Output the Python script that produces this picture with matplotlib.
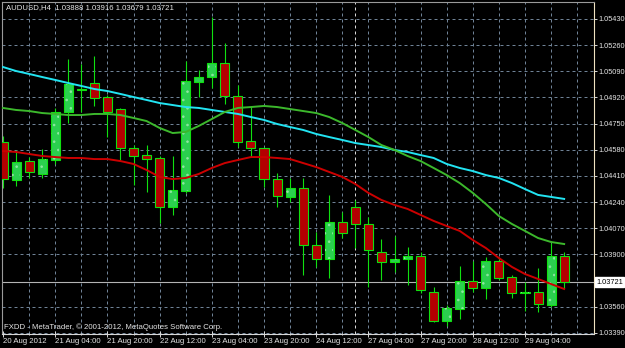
import matplotlib
matplotlib.use("Agg")
import matplotlib.pyplot as plt

# AUDUSD H4 bars, 20 Aug 2012 12:00 -> 29 Aug 2012
opens = [1.04631, 1.04384, 1.04507, 1.04423, 1.04514, 1.04826, 1.04969, 1.05014, 1.04923, 1.04845,
         1.04592, 1.04546, 1.04527, 1.04209, 1.04313, 1.05021, 1.05053, 1.05144, 1.04930, 1.04637,
         1.04592, 1.04390, 1.04274, 1.04332, 1.03962, 1.03871, 1.04111, 1.04209, 1.04098, 1.03916,
         1.03851, 1.03871, 1.03890, 1.03656, 1.03468, 1.03546, 1.03728, 1.03682, 1.03858, 1.03754,
         1.03650, 1.03656, 1.03572, 1.03888]
highs = [1.04670, 1.04579, 1.04533, 1.04585, 1.04852, 1.05170, 1.05138, 1.05190, 1.04936, 1.04852,
         1.04611, 1.04611, 1.04540, 1.04540, 1.05157, 1.05099, 1.05443, 1.05274, 1.05001, 1.04865,
         1.04598, 1.04430, 1.04397, 1.04397, 1.04046, 1.04287, 1.04176, 1.04254, 1.04144, 1.04001,
         1.04020, 1.03949, 1.03916, 1.03689, 1.03572, 1.03825, 1.03858, 1.03884, 1.03884, 1.03767,
         1.03721, 1.03812, 1.03975, 1.03916]
lows = [1.04332, 1.04345, 1.04397, 1.04397, 1.04488, 1.04754, 1.04826, 1.04865, 1.04663, 1.04514,
        1.04352, 1.04306, 1.04105, 1.04157, 1.04300, 1.04923, 1.04982, 1.04878, 1.04598, 1.04533,
        1.04339, 1.04209, 1.04241, 1.03767, 1.03819, 1.03747, 1.04007, 1.03942, 1.03689, 1.03734,
        1.03786, 1.03702, 1.03650, 1.03461, 1.03435, 1.03481, 1.03656, 1.03611, 1.03734, 1.03617,
        1.03533, 1.03526, 1.03559, 1.03679]
closes = [1.04390, 1.04501, 1.04436, 1.04520, 1.04826, 1.05008, 1.04975, 1.04917, 1.04826, 1.04592,
          1.04540, 1.04520, 1.04209, 1.04319, 1.05027, 1.05053, 1.05144, 1.04930, 1.04631, 1.04592,
          1.04390, 1.04280, 1.04332, 1.03962, 1.03871, 1.04111, 1.04040, 1.04098, 1.03929, 1.03851,
          1.03871, 1.03890, 1.03669, 1.03468, 1.03552, 1.03728, 1.03682, 1.03858, 1.03747, 1.03650,
          1.03656, 1.03578, 1.03890, 1.03721]

# moving averages, one value per bar
ma_slow = [1.05118, 1.05092, 1.05073, 1.05053, 1.05034, 1.05014, 1.04995, 1.04975, 1.04962, 1.04943,
           1.04923, 1.04904, 1.04884, 1.04871, 1.04858, 1.04852, 1.04839, 1.04826, 1.04813, 1.04793,
           1.04774, 1.04748, 1.04728, 1.04709, 1.04683, 1.04663, 1.04644, 1.04624, 1.04611, 1.04598,
           1.04579, 1.04566, 1.04546, 1.04527, 1.04488, 1.04462, 1.04442, 1.04416, 1.04397, 1.04364,
           1.04325, 1.04287, 1.04274, 1.04261]
ma_mid = [1.04852, 1.04839, 1.04832, 1.04819, 1.04813, 1.04806, 1.04806, 1.04813, 1.04813, 1.04806,
          1.04787, 1.04767, 1.04722, 1.04689, 1.04696, 1.04735, 1.04780, 1.04826, 1.04852, 1.04858,
          1.04865, 1.04858, 1.04845, 1.04832, 1.04819, 1.04793, 1.04754, 1.04709, 1.04663, 1.04611,
          1.04579, 1.04540, 1.04507, 1.04462, 1.04416, 1.04364, 1.04300, 1.04228, 1.04150, 1.04098,
          1.04053, 1.04007, 1.03981, 1.03968]
ma_fast = [1.04572, 1.04566, 1.04553, 1.04540, 1.04533, 1.04527, 1.04527, 1.04520, 1.04520, 1.04507,
           1.04488, 1.04449, 1.04404, 1.04390, 1.04397, 1.04423, 1.04462, 1.04494, 1.04514, 1.04533,
           1.04533, 1.04527, 1.04520, 1.04494, 1.04468, 1.04436, 1.04404, 1.04358, 1.04300, 1.04254,
           1.04222, 1.04196, 1.04157, 1.04118, 1.04085, 1.04053, 1.03994, 1.03942, 1.03877, 1.03819,
           1.03773, 1.03741, 1.03708, 1.03676]

price_ticks = [1.05430, 1.05260, 1.05090, 1.04920, 1.04750, 1.04580, 1.04410,
               1.04240, 1.04070, 1.03900, 1.03721, 1.03560, 1.03390]
time_labels = ["20 Aug 2012", "21 Aug 04:00", "21 Aug 20:00", "22 Aug 12:00", "23 Aug 04:00",
               "23 Aug 20:00", "24 Aug 12:00", "27 Aug 04:00", "27 Aug 20:00", "28 Aug 12:00",
               "29 Aug 04:00"]
last_price = 1.03721
title_text = "AUDUSD,H4  1.03888 1.03916 1.03679 1.03721"
footer_text = "FXDD - MetaTrader, \u00a9 2001-2012, MetaQuotes Software Corp."

FONT = "Liberation Sans"
FS = 5.6
FS_Y = 5.3
TXT = "#e6e6e6"
GRID = "#6f8296"
BULL = "#2bcf4f"
BEAR = "#b40000"
EDGE = "#10e010"

W, H = 625, 348
fig = plt.figure(figsize=(W / 100, H / 100), dpi=100, facecolor="black")
ax = fig.add_axes([2 / W, 14 / H, 592 / W, 332 / H], facecolor="black")

n = len(opens)
idx = list(range(n))

# grid: horizontal at price levels, vertical every second bar
for p in price_ticks:
    if p == last_price:
        continue
    ax.axhline(p, color=GRID, lw=0.72, ls=(0, (3, 3)), zorder=1)
for k in range(2, 46, 2):
    ax.axvline(k, color=GRID, lw=0.72, ls=(0, (3, 3)), zorder=1)
ax.axvline(27, color="#d8d8d8", lw=0.72, ls=(0, (3, 3)), zorder=1)

# current price line
ax.axhline(last_price, color="#b4b4b4", lw=0.8, zorder=1.5)

# candles
ax.vlines(idx, lows, highs, color=EDGE, lw=0.8, zorder=2)
bottoms = [min(o, c) for o, c in zip(opens, closes)]
heights = [abs(c - o) for o, c in zip(opens, closes)]
fills = [BULL if c >= o else BEAR for o, c in zip(opens, closes)]
ax.bar(idx, heights, bottom=bottoms, width=0.69, color=fills, edgecolor=EDGE, linewidth=0.8, zorder=3)
# speckled texture on the bull bodies
plt.rcParams["hatch.linewidth"] = 0.6
for k in idx:
    if closes[k] > opens[k]:
        ax.bar(k, heights[k], bottom=bottoms[k], width=0.6, fill=False, edgecolor="#8ee8a0",
               linewidth=0, hatch="..", zorder=3.5)

# moving averages
ax.plot(idx, ma_slow, color="#22e4f2", lw=1.4, zorder=4)
ax.plot(idx, ma_mid, color="#3cb82c", lw=1.4, zorder=4)
ax.plot(idx, ma_fast, color="#cc0000", lw=1.4, zorder=4)

ax.set_xlim(-1 / 13.05, 591 / 13.05)
ax.set_ylim(1.033834, 1.055404)

# axes frame
for side in ["left", "top"]:
    ax.spines[side].set_color("#9a9a9a")
    ax.spines[side].set_linewidth(0.8)
ax.spines["right"].set_color("#efe2c0")
ax.spines["right"].set_linewidth(0.8)
ax.spines["bottom"].set_color("#d8d8d8")
ax.spines["bottom"].set_linewidth(0.8)

# price axis on the right
ax.yaxis.tick_right()
ytick_vals = [p for p in price_ticks if p != last_price]
ax.set_yticks(ytick_vals)
ax.set_yticklabels(["%.5f" % p for p in ytick_vals], fontsize=FS_Y, family=FONT, color=TXT)
ax.tick_params(axis="y", direction="out", length=2.5, width=0.7, color="#d8d8d8", pad=0.6)

# time axis
major = list(range(0, 41, 4))
ax.set_xticks(major)
ax.set_xticklabels(time_labels, fontsize=FS, family=FONT, color=TXT, ha="left")
ax.set_xticks(list(range(2, 44, 4)), minor=True)
ax.tick_params(axis="x", which="major", direction="inout", length=4, width=0.7, color="#d8d8d8", pad=1)
ax.tick_params(axis="x", which="minor", direction="inout", length=2, width=0.7, color="#d8d8d8")

# last price box on the scale
ax.annotate("%.5f" % last_price, xy=(1.0, last_price), xycoords=("axes fraction", "data"),
            xytext=(1.6, 0), textcoords="offset points", va="center", ha="left",
            fontsize=FS_Y, family=FONT, color="black",
            bbox=dict(boxstyle="square,pad=0.2", fc="white", ec="white"), annotation_clip=False)

fig.text(6 / W, 1 - 8 / H, title_text, fontsize=FS, family=FONT, color=TXT, va="center", ha="left")
fig.text(4 / W, 1 - 327 / H, footer_text, fontsize=FS, family=FONT, color=TXT, va="center", ha="left")

fig.savefig("out.png", dpi=100, facecolor="black")
